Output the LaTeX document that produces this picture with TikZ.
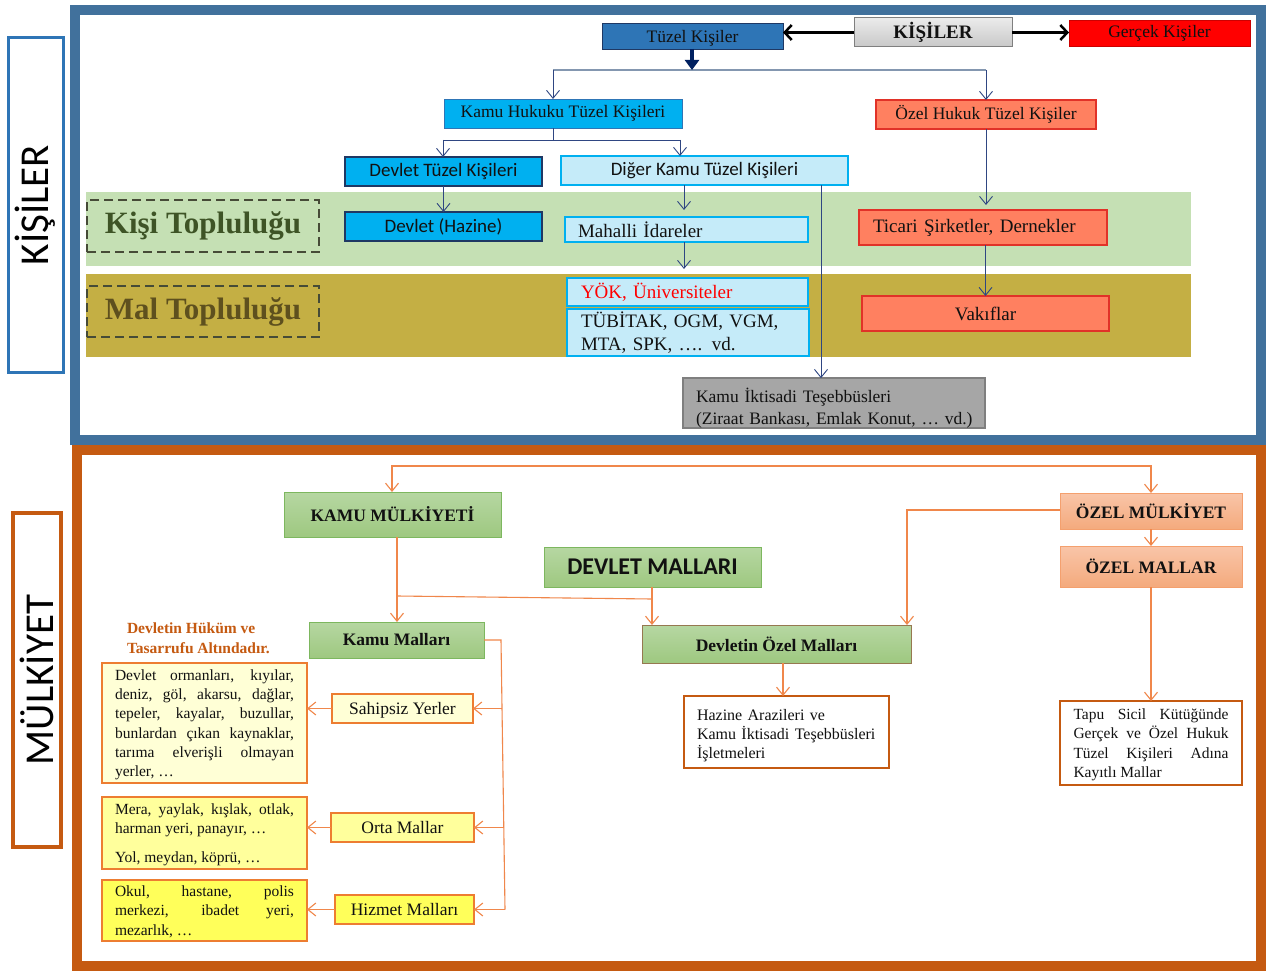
\documentclass[tikz,border=0pt]{standalone}
\usepackage{fontspec}
\setmainfont{Liberation Serif}
\newfontfamily\carl{Carlito}
\usetikzlibrary{arrows.meta}

\definecolor{frameblue}{RGB}{65,113,156}
\definecolor{labelblue}{RGB}{46,117,182}
\definecolor{frameorange}{RGB}{197,90,17}
\definecolor{tuzelblue}{RGB}{46,117,182}
\definecolor{cyanfill}{RGB}{0,176,240}
\definecolor{navy}{RGB}{31,56,100}
\definecolor{lightcyan}{RGB}{197,235,249}
\definecolor{coral}{RGB}{255,128,96}
\definecolor{coralborder}{RGB}{225,50,40}
\definecolor{greenband}{RGB}{197,224,180}
\definecolor{oliveband}{RGB}{196,175,68}
\definecolor{kisitext}{RGB}{62,84,38}
\definecolor{maltext}{RGB}{94,80,30}
\definecolor{dashcol}{RGB}{70,75,55}
\definecolor{grayfill}{RGB}{166,166,166}
\definecolor{grayborder}{RGB}{127,127,127}
\definecolor{linenavy}{RGB}{47,70,130}
\definecolor{linegray}{RGB}{132,151,176}
\definecolor{darknavy}{RGB}{0,32,96}
\definecolor{orline}{RGB}{240,135,75}
\definecolor{gtop}{RGB}{182,215,162}
\definecolor{gbot}{RGB}{158,200,128}
\definecolor{gborder}{RGB}{125,183,95}
\definecolor{brownborder}{RGB}{150,120,80}
\definecolor{stop}{RGB}{249,197,168}
\definecolor{sbot}{RGB}{244,170,125}
\definecolor{sborder}{RGB}{244,160,110}
\definecolor{yel1}{RGB}{255,255,214}
\definecolor{yel2}{RGB}{255,255,156}
\definecolor{yel3}{RGB}{255,255,90}
\definecolor{yborder}{RGB}{237,125,49}
\definecolor{redfill}{RGB}{255,0,0}
\definecolor{hukumcol}{RGB}{197,90,17}
\definecolor{txt}{RGB}{17,17,17}
\definecolor{gtopgray}{RGB}{235,235,235}
\definecolor{gbotgray}{RGB}{200,200,200}

\newcommand{\bx}[7]{\node[base,#1, minimum width={(#5-#3)*1pt}, minimum height={(#6-#4)*1pt}] (#2) at ({(#3+#5)/2},{(#4+#6)/2}) {#7};}
\newcommand{\lbx}[8]{\pgfmathsetmacro\tw{#5-#3-2*#7}\node[base,#1, minimum width={(#5-#3)*1pt}, minimum height={(#6-#4)*1pt}, text width=\tw pt, align=left] (#2) at ({(#3+#5)/2},{(#4+#6)/2}) {#8};}

\tikzset{
  base/.style={rectangle, inner sep=0pt, outer sep=0pt, text=txt},
  fA/.style={font=\fontsize{17.5}{21}\selectfont},
  fB/.style={font=\fontsize{19}{23}\selectfont},
  fBold/.style={font=\bfseries\fontsize{17.5}{21}\selectfont},
  fSans/.style={font=\carl\fontsize{19}{23}\selectfont},
  fSmall/.style={font=\fontsize{15.5}{19.3}\selectfont},
  tuzelbox/.style={fill=tuzelblue, draw=navy, line width=0.8pt, fA},
  kisibox/.style={top color=gtopgray, bottom color=gbotgray, draw=grayborder, line width=1pt, font=\bfseries\fontsize{19}{22}\selectfont},
  gercekbox/.style={fill=redfill, draw=redfill!80!black, line width=0.5pt, fA},
  cyanbox/.style={fill=cyanfill, draw=tuzelblue, line width=0.8pt, fA},
  navybox/.style={fill=cyanfill, draw=navy, line width=2pt, fSans},
  lcbox/.style={fill=lightcyan, draw=cyanfill, line width=2pt},
  coralbox/.style={fill=coral, draw=coralborder, line width=1.2pt},
  graybox/.style={fill=grayfill, draw=grayborder, line width=1.5pt, font=\fontsize{17.5}{22}\selectfont},
  dashbox/.style={draw=dashcol, line width=1.5pt, dash pattern=on 9pt off 5pt, font=\bfseries\fontsize{31}{34}\selectfont},
  greenbox/.style={top color=gtop, bottom color=gbot, draw=gborder, line width=1pt, fBold},
  salmonbox/.style={top color=stop, bottom color=sbot, draw=sborder, line width=1pt, fBold},
  whitebox/.style={fill=white, draw=frameorange, line width=2pt},
  ybox/.style={draw=yborder, line width=1.2pt},
  tarr/.style={draw=linenavy, line width=0.9pt, -{Straight Barb[length=8pt,width=13pt]}},
  tline/.style={draw=linenavy, line width=0.9pt},
  hline/.style={draw=linegray, line width=2pt},
  karr/.style={draw=black, line width=2.5pt, -{Straight Barb[length=7pt,width=15pt]}},
  bigdown/.style={draw=darknavy, line width=4pt, -{Triangle[length=10pt,width=14pt]}},
  oline/.style={draw=orline, line width=1.1pt},
  oarr/.style={draw=orline, line width=1.1pt, -{Straight Barb[length=8pt,width=13pt]}},
  sidelabel/.style={rectangle, inner sep=0pt, outer sep=0pt, rotate=90, font=\carl\fontsize{41}{41}\selectfont, text=black}
}

\begin{document}
\begin{tikzpicture}[x=1pt,y=-1pt]
\useasboundingbox (0,0) rectangle (1266,971);
\fill[white] (0,0) rectangle (1266,971);

% frames
\draw[frameblue, line width=10pt] (75,10) rectangle (1261,440);
\draw[frameorange, line width=10pt] (77,450) rectangle (1261,966);

% side labels
\node[sidelabel, draw=labelblue, line width=3pt, minimum width=334pt, minimum height=55pt] (kisilerlbl) at (35.5,205) {KİŞİLER};
\node[sidelabel, draw=frameorange, line width=3.5pt, minimum width=334pt, minimum height=48pt] (mulklbl) at (37,680) {MÜLKİYET};

% bands
\fill[greenband] (86,192) rectangle (1191,266);
\fill[oliveband] (86,274) rectangle (1191,357);

% ---------- top section nodes ----------
\bx{tuzelbox,text depth=0pt}{tuzel}{602}{23}{783}{49}{Tüzel Kişiler}
\bx{kisibox}{kisiler}{854}{18}{1012}{47}{KİŞİLER}
\bx{gercekbox}{gercek}{1069}{20}{1250}{46}{Gerçek Kişiler}
\bx{cyanbox}{khtk}{444}{99}{682}{128}{Kamu Hukuku Tüzel Kişileri}
\bx{coralbox,fA}{ohtk}{876}{100}{1096}{129}{Özel Hukuk Tüzel Kişiler}
\bx{navybox}{dtk}{345}{157}{542}{186}{Devlet Tüzel Kişileri}
\bx{lcbox,fSans}{dktk}{561}{156}{848}{185}{Diğer Kamu Tüzel Kişileri}
\bx{dashbox,text=kisitext}{kisitop}{87}{200}{319}{252}{Kişi Topluluğu}
\bx{dashbox,text=maltext}{maltop}{87}{286}{319}{337}{Mal Topluluğu}
\bx{navybox}{dhaz}{345}{212}{542}{241}{Devlet (Hazine)}
\lbx{lcbox,fB}{mah}{565}{217}{808}{242}{13}{Mahalli İdareler}
\lbx{lcbox,fB,text=red}{yok}{567}{278}{808}{306}{14}{YÖK, Üniversiteler}
\lbx{lcbox,fB}{tub}{567}{309}{809}{356}{14}{TÜBİTAK, OGM, VGM,\\MTA, SPK, …. vd.}
\lbx{graybox}{kit}{683}{379}{985}{427}{13}{\mbox{\rule{0pt}{24pt}Kamu İktisadi Teşebbüsleri}\\\mbox{(Ziraat Bankası, Emlak Konut, … vd.)}}
\lbx{coralbox,fB}{ticari}{859}{210}{1107}{245}{14}{Ticari Şirketler, Dernekler}
\bx{coralbox,fB}{vak}{862}{296}{1109}{331}{Vakıflar}

% ---------- top connectors ----------
\draw[karr] (kisiler.west) -- (kisiler.west -| tuzel.east);
\draw[karr] (kisiler.east) -- (kisiler.east -| gercek.west);
\coordinate (sp) at (692,70);
\coordinate (sL) at (553,70);
\coordinate (sR) at (986,70);
\draw[hline] (sL) -- (sR);
\draw[bigdown] (tuzel.south -| sp) -- (sp);
\draw[tarr] (sL) -- (sL |- khtk.north);
\draw[tarr] (sR) -- (sR |- ohtk.north);
\coordinate (k1) at (553,140);
\coordinate (k2) at (443,140);
\coordinate (k3) at (680,140);
\draw[tline] (khtk.south -| k1) -- (k1);
\draw[tline] (k2) -- (k3);
\draw[tarr] (k2) -- (k2 |- dtk.north);
\draw[tarr] (k3) -- (k3 |- dktk.north);
\draw[tarr] (dtk.south) -- (dhaz.north);
\coordinate (xm) at (684,0);
\draw[tarr, shorten >=7pt] (dktk.south -| xm) -- (mah.north -| xm);
\draw[tarr, shorten >=9pt] (mah.south -| xm) -- (yok.north -| xm);
\coordinate (xk) at (821,0);
\draw[tarr] (dktk.south -| xk) -- (kit.north -| xk);
\draw[tarr, shorten >=5pt] (ohtk.south) -- (ohtk.south |- ticari.north);
\draw[tarr] (ticari.south -| vak.north) -- (vak.north);

% ---------- bottom section nodes ----------
\bx{greenbox}{kamum}{284}{492}{501}{537}{KAMU MÜLKİYETİ}
\bx{salmonbox}{ozelm}{1060}{493}{1242}{529}{ÖZEL MÜLKİYET}
\bx{salmonbox}{ozelmal}{1060}{546}{1242}{587}{ÖZEL MALLAR}
\bx{greenbox,font=\carl\bfseries\fontsize{24}{26}\selectfont}{devm}{544}{547}{761}{587}{DEVLET MALLARI}
\bx{greenbox}{kmal}{309}{622}{484}{658}{Kamu Malları}
\bx{greenbox,draw=brownborder}{dozel}{642}{625}{911}{663}{Devletin Özel Malları}
\lbx{whitebox,font=\fontsize{16}{19.3}\selectfont}{hazine}{684}{696}{889}{768}{13}{\rule{0pt}{18pt}Hazine Arazileri ve\\Kamu İktisadi Teşebbüsleri\\İşletmeleri}
\bx{whitebox,fSmall,align=left,text depth=0pt}{tapu}{1060}{701}{1242}{785}{\makebox[155pt][s]{Tapu Sicil Kütüğünde}\\\makebox[155pt][s]{Gerçek ve Özel Hukuk}\\\makebox[155pt][s]{Tüzel Kişileri Adına}\\Kayıtlı Mallar}
\node[base, anchor=west, align=left, text=hukumcol, font=\bfseries\fontsize{15.5}{20}\selectfont] (hukum) at (127,638) {Devletin Hüküm ve\\Tasarrufu Altındadır.};
\bx{ybox,fill=yel1,fSmall,align=left,text depth=0pt}{box1}{102}{663}{307}{783}{\makebox[179pt][s]{Devlet ormanları, kıyılar,}\\\makebox[179pt][s]{deniz, göl, akarsu, dağlar,}\\\makebox[179pt][s]{tepeler, kayalar, buzullar,}\\\makebox[179pt][s]{bunlardan çıkan kaynaklar,}\\\makebox[179pt][s]{tarıma elverişli olmayan}\\yerler, …}
\bx{ybox,fill=yel2,fSmall,align=left,text depth=0pt}{box2}{102}{797}{307}{869}{\makebox[179pt][s]{Mera, yaylak, kışlak, otlak,}\\harman yeri, panayır, …\\[10pt]Yol, meydan, köprü, …}
\bx{ybox,fill=yel3,fSmall,align=left,text depth=0pt}{box3}{102}{880}{307}{941}{\makebox[179pt][s]{Okul, hastane, polis}\\\makebox[179pt][s]{merkezi, ibadet yeri,}\\mezarlık, …}
\bx{ybox,fill=yel1,fA,text depth=1pt}{sahip}{332}{694}{473}{723}{Sahipsiz Yerler}
\bx{ybox,fill=yel2,fA}{orta}{331}{813}{474}{842}{Orta Mallar}
\bx{ybox,fill=yel3,fA}{hizmet}{335}{895}{474}{924}{Hizmet Malları}

% ---------- bottom connectors ----------
\coordinate (t1) at (392,466);
\coordinate (t2) at (1151,466);
\draw[oline, {Straight Barb[length=8pt,width=13pt]}-{Straight Barb[length=8pt,width=13pt]}] (t1 |- kamum.north) -- (t1) -- (t2) -- (t2 |- ozelm.north);
\draw[oarr] (ozelm.south) -- (ozelmal.north);
\coordinate (c907) at (907,510);
\draw[oarr] (ozelm.west |- c907) -- (c907) -- (c907 |- dozel.north);
\coordinate (c397) at (397,596);
\coordinate (c652) at (652,599);
\draw[oarr] (kamum.south -| c397) -- (c397 |- kmal.north);
\draw[oline] (c397) -- (c652);
\draw[oarr] (devm.south -| c652) -- (c652 |- dozel.north);
\coordinate (c783) at (783,0);
\draw[oarr] (dozel.south -| c783) -- (hazine.north -| c783);
\draw[oarr] (ozelmal.south) -- (tapu.north);
\coordinate (r1) at (501,640);
\coordinate (r2) at (505,909.5);
\coordinate (s1) at (502,708.5);
\coordinate (s2) at (503.8,827.5);
\draw[oline] (kmal.east) -- (r1) -- (r2);
\draw[oarr] (s1) -- (s1 -| sahip.east);
\draw[oarr] (s2) -- (s2 -| orta.east);
\draw[oarr] (r2) -- (r2 -| hizmet.east);
\draw[oarr] (sahip.west) -- (sahip.west -| box1.east);
\draw[oarr] (orta.west) -- (orta.west -| box2.east);
\draw[oarr] (hizmet.west) -- (hizmet.west -| box3.east);
\end{tikzpicture}
\end{document}
